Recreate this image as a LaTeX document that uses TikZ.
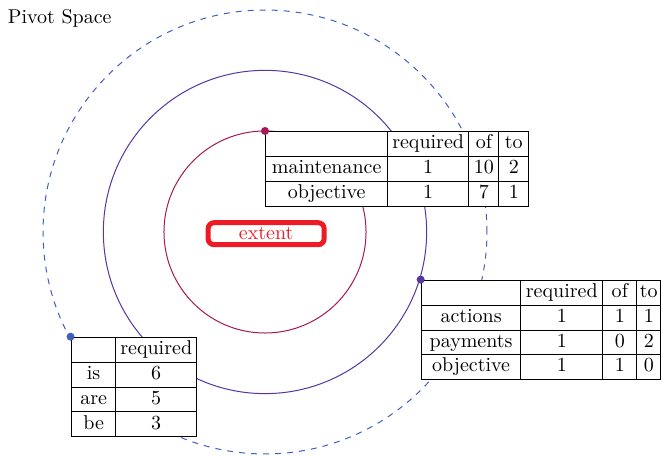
\documentclass[tikz,border=0pt]{standalone}
\usepackage{amsmath}
\usepackage{array}
\usepackage{tikz}
\usetikzlibrary{positioning}

\definecolor{ringin}{RGB}{165,25,85}
\definecolor{ringmid}{RGB}{85,55,160}
\definecolor{ringout}{RGB}{65,95,190}
\definecolor{extred}{RGB}{237,28,36}
\newcolumntype{C}[1]{>{\centering\arraybackslash}p{#1}}
\setlength{\tabcolsep}{0pt}

\begin{document}
\begin{tikzpicture}[
  ring/.style={line width=0.5pt},
  tbl/.style={anchor=north west, inner sep=0pt, fill=white},
  dot/.style={circle, inner sep=0pt, minimum size=4pt},
  extentbox/.style={draw=extred, line width=2.5pt, rounded corners=3pt,
    text=extred, minimum width=58pt, minimum height=11pt, inner sep=1pt}]
\useasboundingbox (-4.656,-3.936) rectangle (6.975,4.076);
\node [anchor=north west] (title) at (-4.64,4.03) {Pivot Space};
% the three rings
\draw [ring, ringout, dashed] (0,0) circle (3.9);
\draw [ring, ringmid] (0,0) circle (2.84);
\draw [ring, ringin] (0,0) circle (1.775);
\node [extentbox] (extent) at (0.02,-0.03) {extent};
% points on the rings
\coordinate (pin) at (90:1.775);
\coordinate (pmid) at (-17:2.86);
\coordinate (pout) at (208.3:3.88);
\node [tbl] (tin) at (pin) {\begin{tabular}{|C{60.45pt}|C{40.25pt}|C{14.6pt}|C{14.6pt}|}
\hline
 & required & of & to \\ \hline
maintenance & 1 & 10 & 2 \\ \hline
objective & 1 & 7 & 1 \\ \hline
\end{tabular}};
\node [tbl] (tmid) at (pmid) {\begin{tabular}{|C{49.25pt}|C{40.6pt}|C{16.6pt}|C{11.6pt}|}
\hline
 & required & of & to \\ \hline
actions & 1 & 1 & 1 \\ \hline
payments & 1 & 0 & 2 \\ \hline
objective & 1 & 1 & 0 \\ \hline
\end{tabular}};
\node [tbl] (tout) at (pout) {\begin{tabular}{|C{21.85pt}|C{39.95pt}|}
\hline
 & required \\ \hline
is & 6 \\ \hline
are & 5 \\ \hline
be & 3 \\ \hline
\end{tabular}};
\node [dot, fill=ringin] (din) at (pin) {};
\node [dot, fill=ringmid] (dmid) at (pmid) {};
\node [dot, fill=ringout] (dout) at (pout) {};
\end{tikzpicture}
\end{document}
